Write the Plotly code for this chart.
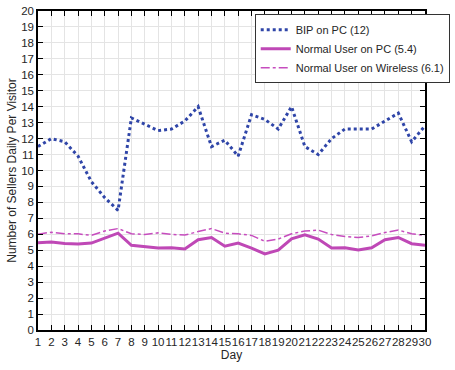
import plotly.graph_objects as go

days = list(range(1, 31))

bip_pc = [11.5, 12.0, 11.8, 10.9, 9.3, 8.3, 7.5, 13.3, 12.9, 12.5,
          12.6, 13.1, 14.0, 11.5, 11.9, 10.9, 13.5, 13.2, 12.6, 14.0,
          11.5, 11.0, 12.0, 12.6, 12.6, 12.6, 13.1, 13.6, 11.8, 12.8]

normal_pc = [5.47, 5.51, 5.43, 5.39, 5.45, 5.76, 6.07, 5.31, 5.21, 5.14,
             5.16, 5.08, 5.66, 5.80, 5.25, 5.45, 5.14, 4.77, 5.00, 5.72,
             5.97, 5.70, 5.14, 5.16, 5.02, 5.16, 5.66, 5.80, 5.41, 5.31]

normal_wireless = [6.01, 6.13, 6.03, 6.03, 5.93, 6.21, 6.36, 6.03, 5.99, 6.09,
                   5.99, 5.95, 6.17, 6.36, 6.07, 6.03, 5.93, 5.56, 5.70, 6.03,
                   6.21, 6.26, 5.99, 5.86, 5.80, 5.90, 6.11, 6.27, 6.03, 5.93]

names = ["BIP on PC (12)", "Normal User on PC (5.4)", "Normal User on Wireless (6.1)"]

FONT = "Liberation Sans, Arial, sans-serif"

fig = go.Figure()
fig.add_trace(go.Scatter(x=days, y=bip_pc, mode="lines", name=names[0],
                         line=dict(color="#2f45a8", width=3, dash="dot")))
fig.add_trace(go.Scatter(x=days, y=normal_pc, mode="lines", name=names[1],
                         line=dict(color="#bf48b6", width=3)))
fig.add_trace(go.Scatter(x=days, y=normal_wireless, mode="lines", name=names[2],
                         line=dict(color="#c64cbe", width=1.5, dash="dashdot")))

axis_common = dict(
    showline=True, linecolor="black", linewidth=1.5, mirror="ticks",
    ticks="inside", ticklen=5, tickcolor="black", tickwidth=1,
    showgrid=True, gridcolor="#e4e4e4", gridwidth=1, zeroline=False,
    ticklabeloverflow="allow",
    tickfont=dict(family=FONT, size=11.5, color="#262626"),
)

fig.update_xaxes(range=[1, 30], tickmode="array", tickvals=days,
                 ticktext=[str(d) for d in days], tickangle=0,
                 title=dict(text="Day", standoff=3,
                            font=dict(family=FONT, size=12, color="#262626")),
                 **axis_common)
fig.update_yaxes(range=[0, 20], tickmode="array", tickvals=list(range(0, 21)),
                 ticktext=[str(v) for v in range(0, 21)],
                 title=dict(text="Number of Sellers Daily Per Visitor", standoff=2,
                            font=dict(family=FONT, size=12, color="#262626")),
                 **axis_common)

fig.update_layout(
    width=455, height=370,
    margin=dict(l=38, r=5, t=6, b=40),
    paper_bgcolor="white", plot_bgcolor="white",
    showlegend=True,
    legend=dict(x=0.56, y=0.99, xanchor="left", yanchor="top",
                bgcolor="white", bordercolor="#333333", borderwidth=1,
                font=dict(family=FONT, size=11, color="#262626"),
                tracegroupgap=0, itemwidth=30),
)

fig.write_html("out.html")
